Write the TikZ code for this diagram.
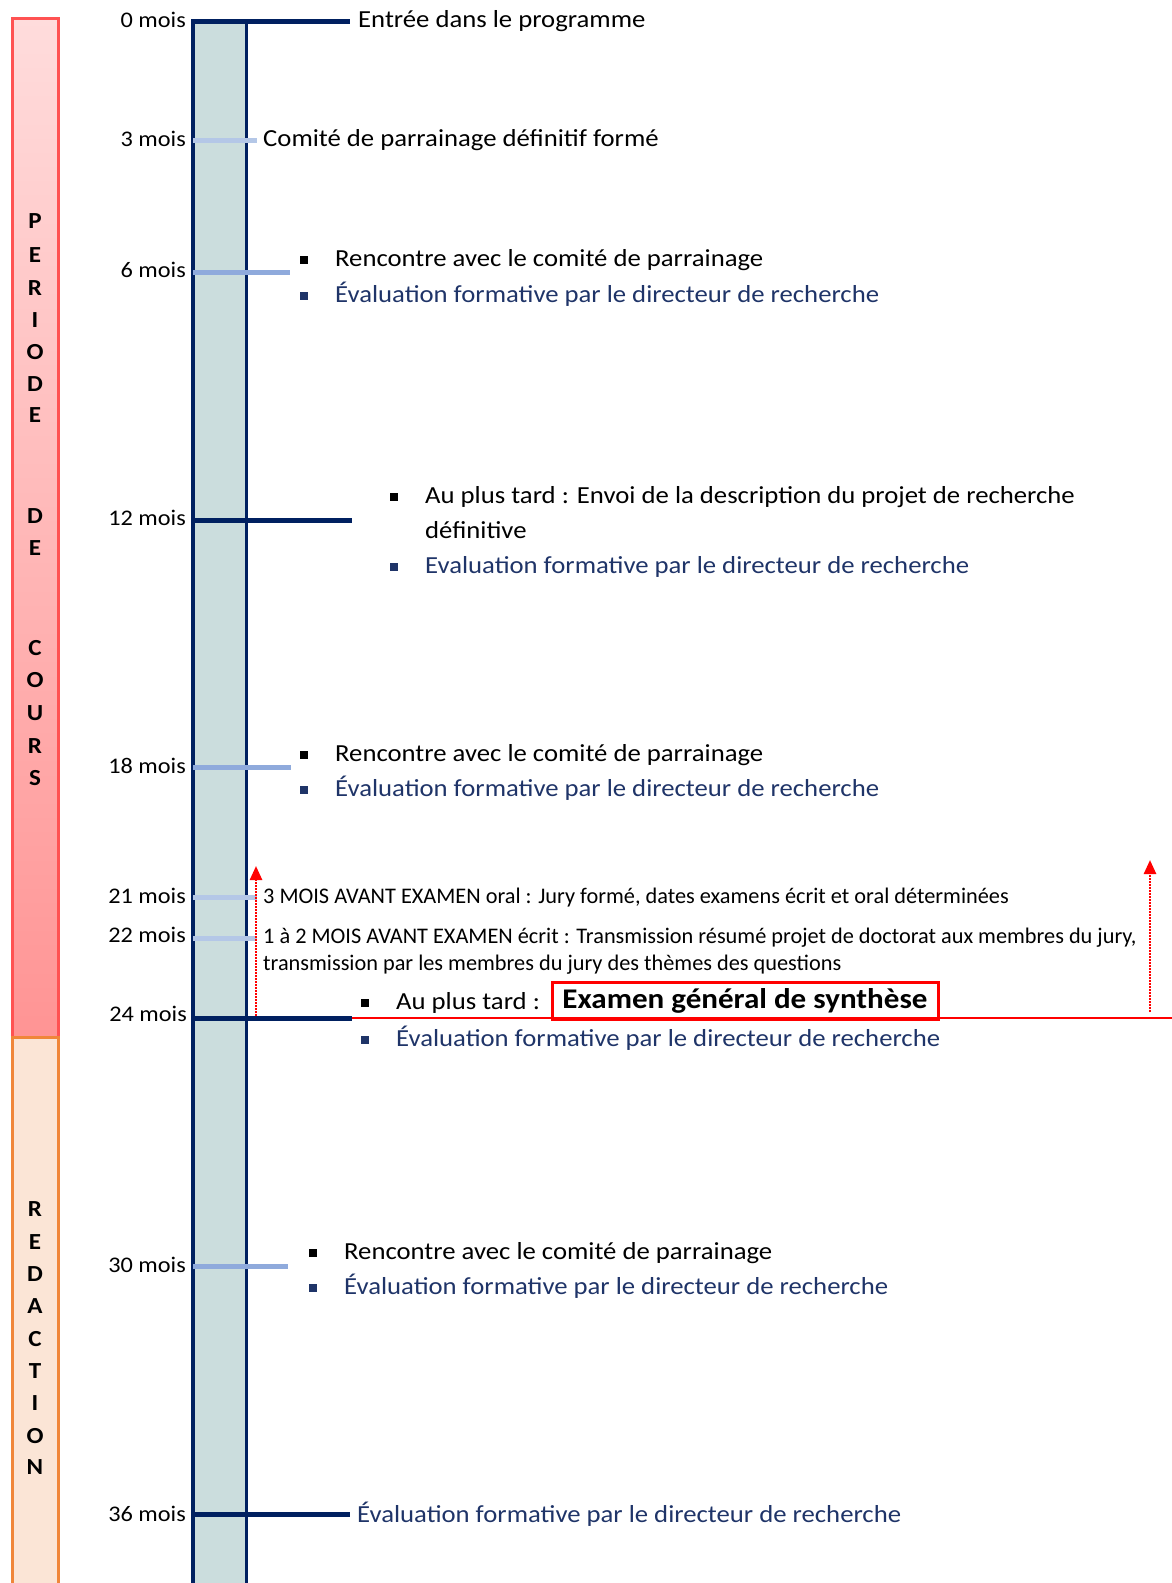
\documentclass[tikz,border=0pt]{standalone}
\usepackage{fontspec}
\setmainfont{Carlito}[FakeStretch=1.09]
\newfontfamily\etroit{Carlito}
\usetikzlibrary{positioning,arrows.meta}
\definecolor{navy}{HTML}{002060}
\definecolor{bleutexte}{HTML}{1F3468}
\definecolor{colonne}{HTML}{CBDDDD}
\definecolor{bleuclair}{HTML}{B4C7E7}
\definecolor{bleumoyen}{HTML}{8FAADC}
\definecolor{rosehaut}{HTML}{FFDCDC}
\definecolor{rosebas}{HTML}{FF9494}
\definecolor{rosebord}{HTML}{FF5252}
\definecolor{orangefond}{HTML}{FBE5D6}
\definecolor{orangebord}{HTML}{F0863A}
\newcommand{\puce}{\makebox[35pt][l]{\rule[2.5pt]{8pt}{8pt}}}
\tikzset{
  mois/.style={anchor=east,inner sep=0pt,font=\fontsize{22.3}{27}\selectfont},
  texte/.style={anchor=base west,inner sep=0pt,font=\fontsize{24.5}{29}\selectfont},
  petit/.style={anchor=base west,inner sep=0pt,font=\etroit\fontsize{22.3}{26}\selectfont},
  lettre/.style={inner sep=0pt,font=\bfseries\fontsize{23}{26}\selectfont},
  fort/.style={navy,line width=5pt},
  clair/.style={bleuclair,line width=5pt},
  moyen/.style={bleumoyen,line width=5pt},
  fleche/.style={red,line width=2.5pt,dash pattern=on 2pt off 1pt,-{Triangle[width=12pt,length=14pt]}},
  boite/.style={draw=red,line width=3pt,inner sep=0pt,minimum width=386pt,minimum height=37pt,font=\bfseries\fontsize{28.5}{32}\selectfont}
}
\begin{document}
\begin{tikzpicture}[x=1pt,y=-1pt]
\useasboundingbox (0,0) rectangle (1172,1583);
\shade[top color=rosehaut,bottom color=rosebas] (12,18) rectangle (58,1037);
\draw[rosebord,line width=3pt] (12,18) rectangle (58,1037);
\draw[orangebord,fill=orangefond,line width=3pt] (12,1037) rectangle (58,1595);
\foreach \l/\y [count=\i] in {P/221,E/255,R/288,I/320,O/352,D/384,E/415,D/516,E/548,C/648,O/680,U/713,R/746,S/778}
  \node[lettre] (cours\i) at (35,\y) {\l};
\foreach \l/\y [count=\i] in {R/1209,E/1242,D/1274,A/1306,C/1339,T/1371,I/1403,O/1436,N/1467}
  \node[lettre] (redac\i) at (35,\y) {\l};
\fill[colonne] (193,20) rectangle (246,1583);
\draw[navy,line width=3.5pt] (193,19) -- (193,1590);
\draw[navy,line width=3pt] (246,19) -- (246,1590);
\coordinate (c0) at (193,21);
\coordinate (c3) at (193,140);
\coordinate (c6) at (193,272);
\coordinate (c12) at (193,520);
\coordinate (c18) at (193,767);
\coordinate (c21) at (193,897);
\coordinate (c22) at (193,938);
\coordinate (c24) at (193,1018);
\coordinate (c30) at (193,1266);
\coordinate (c36) at (193,1514);
\draw[fort] (c0) -- ++(157,0);
\draw[clair] (c3) -- ++(64,0);
\draw[moyen] (c6) -- ++(97,0);
\draw[fort] (c12) -- ++(159,0);
\draw[moyen] (c18) -- ++(98,0);
\draw[clair] (c21) -- ++(64,0);
\draw[clair] (c22) -- ++(64,0);
\draw[red,line width=1.5pt] (c24) ++(159,0) coordinate (r0) -- (1172,1018) coordinate (r1);
\draw[fort] (c24) -- (r0);
\draw[moyen] (c30) -- ++(95,0);
\draw[fort] (c36) -- ++(157,0);
\node[mois] (m0) at (186,20) {0 mois};
\node[mois] (m3) at (186,139) {3 mois};
\node[mois] (m6) at (186,270) {6 mois};
\node[mois] (m12) at (186,518) {12 mois};
\node[mois] (m18) at (186,766) {18 mois};
\node[mois] (m21) at (186,896) {21 mois};
\node[mois] (m22) at (186,935) {22 mois};
\node[mois] (m24) at (187,1014) {24 mois};
\node[mois] (m30) at (186,1265) {30 mois};
\node[mois] (m36) at (186,1514) {36 mois};
\node[texte] (e0) at (358,27) {Entrée dans le programme};
\node[texte] (e3) at (263,146) {Comité de parrainage définitif formé};
\node[texte] (e6a) at (300,266) {\puce Rencontre avec le comité de parrainage};
\node[texte,bleutexte] (e6b) at (300,302) {\puce Évaluation formative par le directeur de recherche};
\node[texte] (e12a) at (390,503) {\puce Au plus tard : Envoi de la description du projet de recherche};
\node[texte] (e12b) at (425,538) {définitive};
\node[texte,bleutexte] (e12c) at (390,573) {\puce Evaluation formative par le directeur de recherche};
\node[texte] (e18a) at (300,761) {\puce Rencontre avec le comité de parrainage};
\node[texte,bleutexte] (e18b) at (300,796) {\puce Évaluation formative par le directeur de recherche};
\node[petit] (e21) at (263,903) {3 MOIS AVANT EXAMEN oral : Jury formé, dates examens écrit et oral déterminées};
\node[petit] (e22a) at (263,943) {1 à 2 MOIS AVANT EXAMEN écrit : Transmission résumé projet de doctorat aux membres du jury,};
\node[petit] (e22b) at (263,970) {transmission par les membres du jury des thèmes des questions};
\node[texte] (e24a) at (361,1009) {\puce Au plus tard :};
\node[boite] (examen) at (745,1001) {Examen général de synthèse};
\node[texte,bleutexte] (e24b) at (361,1046) {\puce Évaluation formative par le directeur de recherche};
\node[texte] (e30a) at (309,1259) {\puce Rencontre avec le comité de parrainage};
\node[texte,bleutexte] (e30b) at (309,1294) {\puce Évaluation formative par le directeur de recherche};
\node[texte,bleutexte] (e36) at (357,1522) {Évaluation formative par le directeur de recherche};
\coordinate (f0) at (256,1016);
\coordinate (f1) at (256,866);
\coordinate (g0) at (1150,1012);
\coordinate (g1) at (1150,860);
\draw[fleche] (f0) -- (f1);
\draw[fleche] (g0) -- (g1);
\end{tikzpicture}
\end{document}
